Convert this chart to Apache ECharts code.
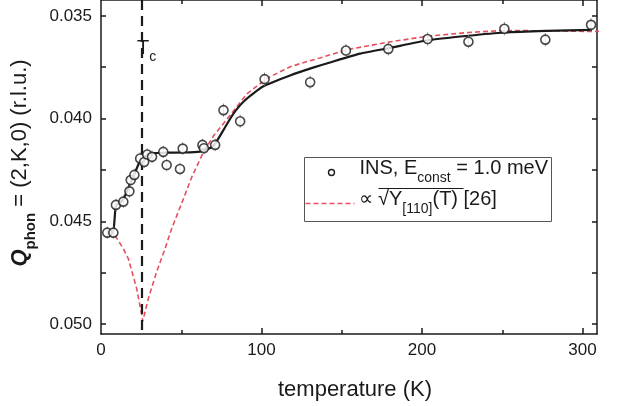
<!DOCTYPE html>
<html>
<head>
<meta charset="utf-8">
<script src="https://cdn.jsdelivr.net/npm/echarts@6/dist/echarts.min.js"></script>
<style>
  html, body { margin: 0; padding: 0; background: #fff; }
  #chart { width: 622px; height: 406px; }
</style>
</head>
<body>
<div id="chart"></div>
<script>
// INS points: temperature (K), Q_phon (r.l.u.) and error bar half-height
const temps = [3.9, 7.7, 9.3, 13.9, 17.7, 18.5, 20.8, 24.4, 26.9, 28.8, 31.8, 38.8, 40.9, 49.2, 50.9,
  63.2, 64.1, 71.1, 76.3, 86.7, 101.9, 130.3, 152.6, 179.0, 203.5, 228.9, 251.3, 276.8, 305.3];
const qValues = [0.04555, 0.04555, 0.04420, 0.04404, 0.04354, 0.04299, 0.04274, 0.04194, 0.04211, 0.04175,
  0.04186, 0.04162, 0.04226, 0.04245, 0.04146, 0.04128, 0.04144, 0.04128, 0.03959, 0.04013, 0.03808,
  0.03823, 0.03669, 0.03661, 0.03613, 0.03626, 0.03563, 0.03616, 0.03544];
const qErrors = [0.0003, 0.0003, 0.0003, 0.0003, 0.0003, 0.0003, 0.0003, 0.0003, 0.0003, 0.0003,
  0.0003, 0.0003, 0.0003, 0.0003, 0.0003, 0.0003, 0.0003, 0.0003, 0.00032, 0.00032, 0.00032,
  0.00032, 0.00032, 0.00032, 0.00032, 0.00032, 0.00032, 0.00032, 0.00032];

// black guide line through the data
const fitT = [3.7, 7.5, 9.3, 13.7, 18.1, 20.6, 24.3, 28.7, 32.4, 39.9, 52.3, 61.7, 64.8, 69.2, 72.9,
  77.3, 82.2, 89.7, 100.9, 117.8, 132.1, 142.7, 161.4, 179.4, 203.7, 228.7, 251.1, 277.3, 305.9];
const fitQ = [0.04555, 0.04555, 0.04424, 0.04395, 0.04318, 0.04274, 0.04207, 0.04178, 0.04168, 0.04166,
  0.04165, 0.04161, 0.04153, 0.04139, 0.04100, 0.04042, 0.03979, 0.03911, 0.03844, 0.03790, 0.03752,
  0.03727, 0.03684, 0.03657, 0.03619, 0.03597, 0.03581, 0.03573, 0.03568];

// red dashed: proportional to sqrt(Y_[110](T)) [26]
const youngT = [8.7, 13.9, 17.0, 22.2, 25.4, 26.0, 29.5, 34.7, 39.9, 44.0, 51.3, 56.5, 63.7, 70.0,
  78.3, 90.8, 103.2, 117.8, 126.0, 136.4, 153.1, 179.1, 203.6, 229.0, 251.3, 277.0, 305.6, 315];
const youngQ = [0.04568, 0.04633, 0.04681, 0.04826, 0.04955, 0.04986, 0.04875, 0.04745, 0.04633, 0.04536,
  0.04391, 0.04285, 0.04165, 0.04085, 0.04005, 0.03880, 0.03805, 0.03748, 0.03728, 0.03705, 0.03665,
  0.03628, 0.03599, 0.03581, 0.03571, 0.03573, 0.03576, 0.03576];

const tcTemp = 25.2;
const xLabels = [0, 100, 200, 300];
const xMajorTicks = [100, 200, 300];
const xMinorTicks = [50, 150, 250];
const yLabels = [0.035, 0.040, 0.045, 0.050];
const yTicks = [0.035, 0.0375, 0.040, 0.0425, 0.045, 0.0475, 0.050];

const FONT = "'Liberation Sans', Arial, sans-serif";
const INK = '#1a1a1a';

const chart = echarts.init(document.getElementById('chart'));

const pts = temps.map((t, i) => [t, qValues[i], qErrors[i]]);

function xAxisBase(pos, ticks, len, withLine) {
  return {
    type: 'value', min: 0, max: 309, position: pos,
    axisLine: { show: withLine, onZero: false, lineStyle: { color: INK, width: 1.5 } },
    axisTick: { show: true, inside: true, length: len, customValues: ticks, lineStyle: { color: INK, width: 1.5 } },
    axisLabel: { show: false },
    splitLine: { show: false }
  };
}
function yAxisBase(pos, withLabels) {
  return {
    type: 'value', inverse: true, min: 0.03423, max: 0.05048, position: pos,
    axisLine: { show: true, onZero: false, lineStyle: { color: INK, width: 1.5 } },
    axisTick: { show: true, inside: true, length: 5, customValues: yTicks, lineStyle: { color: INK, width: 1.5 } },
    axisLabel: withLabels ? {
      show: true, customValues: yLabels, margin: 9, color: INK, fontFamily: FONT, fontSize: 17,
      formatter: v => v.toFixed(3)
    } : { show: false },
    splitLine: { show: false }
  };
}

const bottom = xAxisBase('bottom', xMajorTicks, 6, true);
bottom.axisLabel = { show: true, customValues: xLabels, margin: 8, color: INK, fontFamily: FONT, fontSize: 17 };
bottom.name = 'temperature (K)';
bottom.nameLocation = 'middle';
bottom.nameGap = 45;
bottom.nameTextStyle = { fontFamily: FONT, fontSize: 22, color: INK, padding: [0, 0, 0, 12] };

const left = yAxisBase('left', true);
left.name = '{q|Q}{sub|phon}{n| = (2,K,0) (r.l.u.)}';
left.nameLocation = 'middle';
left.nameRotate = 90;
left.nameGap = 58;
left.nameTextStyle = {
  fontFamily: FONT, color: INK,
  padding: [0, 0, 0, 8],
  rich: {
    q: { fontSize: 22, fontWeight: 'bold', fontStyle: 'italic', fontFamily: FONT, lineHeight: 30, verticalAlign: 'top' },
    sub: { fontSize: 15, fontWeight: 'bold', fontFamily: FONT, lineHeight: 15, verticalAlign: 'bottom' },
    n: { fontSize: 22, fontFamily: FONT, lineHeight: 30, verticalAlign: 'top' }
  }
};

const option = {
  animation: false,
  backgroundColor: '#fff',
  grid: { left: 101, right: 25, top: 0, bottom: 70, containLabel: false },
  xAxis: [bottom, xAxisBase('top', xMajorTicks, 6, true),
    xAxisBase('bottom', xMinorTicks, 4, false), xAxisBase('top', xMinorTicks, 4, false)],
  yAxis: [left, yAxisBase('right', false)],
  series: [
    {
      type: 'line', name: 'sqrtY',
      data: youngT.map((t, i) => [t, youngQ[i]]),
      showSymbol: false, smooth: false, clip: false,
      lineStyle: { color: '#e5505e', width: 1.6, type: [5, 3] },
      z: 2
    },
    {
      type: 'line', name: 'fit',
      data: fitT.map((t, i) => [t, fitQ[i]]),
      showSymbol: false, smooth: 0.15,
      lineStyle: { color: INK, width: 2.2 },
      z: 3,
      markLine: {
        silent: true, symbol: 'none', label: { show: false },
        lineStyle: { color: INK, width: 2.2, type: [10, 6] },
        data: [{ xAxis: tcTemp }]
      }
    },
    {
      type: 'custom', name: 'err',
      data: pts,
      renderItem: (params, api) => {
        const t = api.value(0), q = api.value(1), e = api.value(2);
        const a = api.coord([t, q - e]);
        const b = api.coord([t, q + e]);
        return { type: 'line', shape: { x1: a[0], y1: a[1], x2: b[0], y2: b[1] },
          style: { stroke: '#8a8a8a', lineWidth: 1 } };
      },
      z: 4
    },
    {
      type: 'scatter', name: 'INS',
      data: pts.map(p => [p[0], p[1]]),
      symbol: 'circle', symbolSize: 9,
      itemStyle: { color: '#fff', borderColor: INK, borderWidth: 1.6 },
      z: 5
    }
  ],
  graphic: [
    {
      type: 'text', left: 137, top: 38, z: 10,
      style: {
        text: '{t|T}{c|c}', fill: INK,
        rich: {
          t: { fontSize: 20, fontFamily: FONT, lineHeight: 26, verticalAlign: 'top' },
          c: { fontSize: 14, fontFamily: FONT, lineHeight: 14, verticalAlign: 'bottom' }
        }
      }
    },
    {
      type: 'group', left: 303, top: 157, z: 20,
      children: [
        { type: 'rect', shape: { x: 0, y: 0, width: 247, height: 64 },
          style: { fill: '#fff', stroke: '#555', lineWidth: 1 } },
        { type: 'circle', shape: { cx: 27, cy: 15, r: 3 },
          style: { fill: '#fff', stroke: INK, lineWidth: 1.4 } },
        { type: 'text', x: 55, y: 1,
          style: {
            text: '{m|INS, E}{s|const}{m| = 1.0 meV}', fill: INK,
            rich: {
              m: { fontSize: 20, fontFamily: FONT, lineHeight: 27, verticalAlign: 'top' },
              s: { fontSize: 14, fontFamily: FONT, lineHeight: 14, verticalAlign: 'bottom' }
            }
          } },
        { type: 'line', shape: { x1: 1, y1: 46, x2: 50, y2: 46 },
          style: { stroke: '#e5505e', lineWidth: 1.6, lineDash: [5, 3] } },
        { type: 'text', x: 54, y: 32,
          style: {
            text: '{m|\u221D \u221AY}{s|[110]}{m|(T) [26]}', fill: INK,
            rich: {
              m: { fontSize: 20, fontFamily: FONT, lineHeight: 27, verticalAlign: 'top' },
              s: { fontSize: 14, fontFamily: FONT, lineHeight: 14, verticalAlign: 'bottom' }
            }
          } },
        { type: 'line', shape: { x1: 74, y1: 31, x2: 159, y2: 31 },
          style: { stroke: INK, lineWidth: 1 } }
      ]
    }
  ]
};

chart.setOption(option);
</script>
</body>
</html>
